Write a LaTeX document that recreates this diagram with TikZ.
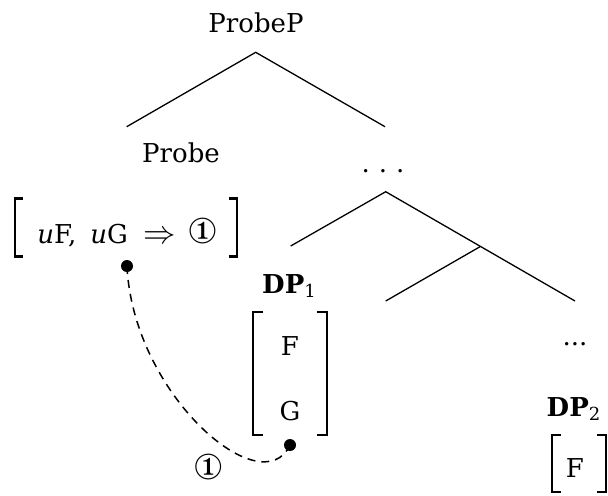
\documentclass[tikz,border=0pt]{standalone}
\usepackage{fontspec}
\setmainfont{DejaVu Serif}
\usepackage{pifont}
\usepackage{graphicx}
\newcommand{\circone}{{\fontsize{18pt}{20pt}\selectfont\ding{172}}}
\newcommand{\subnum}[1]{\raisebox{-0.35ex}{\fontsize{9pt}{10pt}\selectfont #1}}
\begin{document}
\begin{tikzpicture}[x=0.5pt,y=-0.5pt,
  txt/.style={anchor=base,inner sep=0pt,font=\fontsize{13pt}{16pt}\selectfont},
  branch/.style={line width=0.65pt},
  brk/.style={line width=1.35pt},
  dotmark/.style={circle,fill=black,inner sep=0pt,minimum size=6pt},
  link/.style={line width=0.75pt,dash pattern=on 4pt off 3pt}]
\useasboundingbox (0,0) rectangle (608,495);
% tree nodes
\node[txt] (probep) at (256,32) {ProbeP};
\node[txt] (probe) at (181,162) {Probe};
\node[txt] (dots1) at (383,172) {.\hspace{4.5pt}.\hspace{4.5pt}.};
\node[txt] (feat) at (127,243) {\textit{u}F,\hspace{7pt}\textit{u}G\hspace{8pt}\scalebox{1.35}{$\Rightarrow$}\hspace{6pt}\circone};
\node[txt] (dp1) at (289,293) {\textbf{DP}\subnum{1}};
\node[txt] (f1) at (290,355) {F};
\node[txt] (g1) at (290,420) {G};
\node[txt] (dots2) at (575,345) {...};
\node[txt] (dp2) at (573.5,416) {\textbf{DP}\subnum{2}};
\node[txt] (f2) at (575,477) {F};
% branch coordinates
\coordinate (top) at (255.7,52.3);
\coordinate (topL) at (126.7,126.7);
\coordinate (topR) at (385,126.7);
\coordinate (mid) at (385.7,191.7);
\coordinate (midL) at (290.7,246);
\coordinate (br) at (480,246.7);
\coordinate (brL) at (385.7,301);
\coordinate (brR) at (575,301);
\draw[branch] (topL) -- (top) -- (topR);
\draw[branch] (midL) -- (mid) -- (brR);
\draw[branch] (br) -- (brL);
% brackets
\draw[brk] (23,198.3) -- (15,198.3) -- (15,256.7) -- (23,256.7);
\draw[brk] (229,198.3) -- (237,198.3) -- (237,256.7) -- (229,256.7);
\draw[brk] (263,312) -- (253,312) -- (253,435) -- (263,435);
\draw[brk] (317,312) -- (327,312) -- (327,435) -- (317,435);
\draw[brk] (561,435) -- (552,435) -- (552,492) -- (561,492);
\draw[brk] (597,435) -- (606,435) -- (606,492) -- (597,492);
% agreement link
\node[dotmark] (d1) at (127,266) {};
\node[dotmark] (d2) at (290,445) {};
\draw[link] (d1.center) .. controls (133,395) and (262,505) .. node[pos=0.6,anchor=center,xshift=-7pt,yshift=-11pt,inner sep=0pt,font=\fontsize{13pt}{16pt}\selectfont] (lab) {\circone} (d2.center);
\end{tikzpicture}
\end{document}
